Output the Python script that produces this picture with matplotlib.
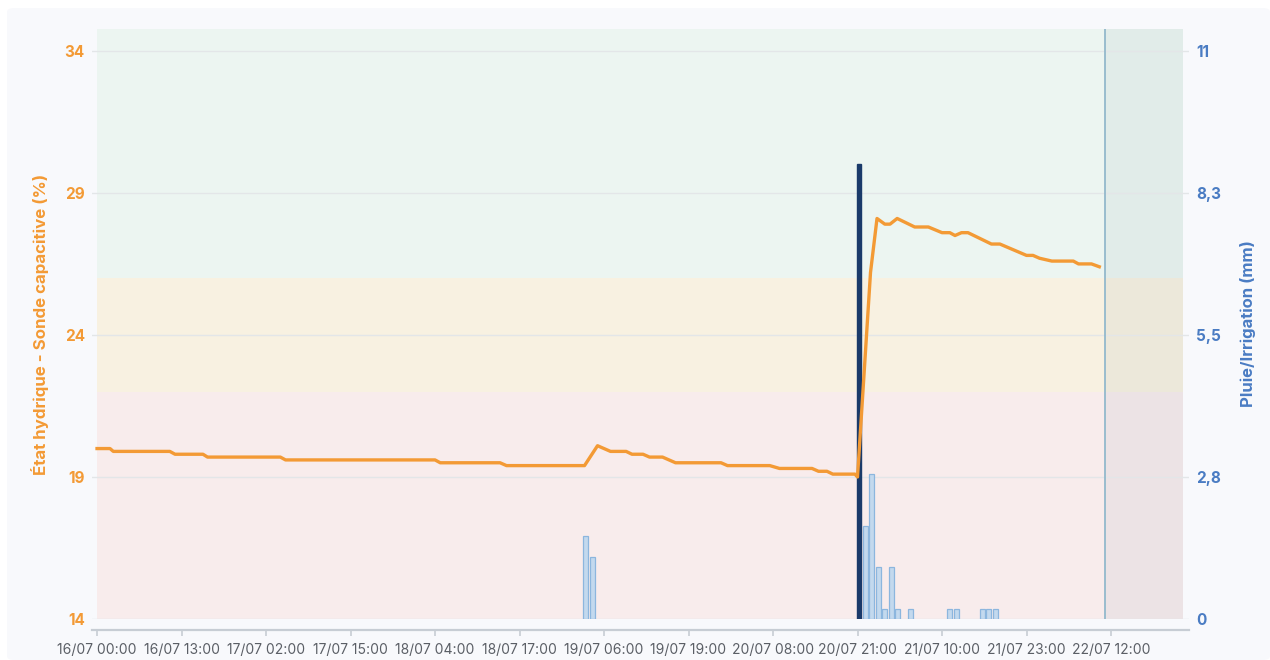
import matplotlib
matplotlib.use("Agg")
import matplotlib.pyplot as plt
from matplotlib.patches import FancyBboxPatch
from matplotlib.ticker import FixedLocator, FuncFormatter
from datetime import datetime, timedelta

plt.rcParams['font.family'] = ['Inter', 'DejaVu Sans']

# soil moisture probe (%), x = hours since 16/07 00:00
start = datetime(2024, 7, 16, 0, 0)
probe_hours = [0, 2, 2.5, 11.2, 12, 16.3, 17, 28.2, 29, 52,
               52.8, 62, 63, 75, 77, 79, 81.4, 82.3, 84, 85,
               87, 89, 96, 97, 103.5, 105, 110, 111, 112.3, 113.2,
               116.6, 117, 119, 120, 121.2, 122, 123.1, 125.8, 127.9, 130,
               131.2, 132, 133, 134, 137.6, 138.9, 143, 144, 145, 146.9,
               150.2, 151, 153, 154.2]
probe_values = [20.0, 20.0, 19.9, 19.9, 19.8, 19.8, 19.7, 19.7, 19.6, 19.6,
                19.5, 19.5, 19.4, 19.4, 20.1, 19.9, 19.9, 19.8, 19.8, 19.7,
                19.7, 19.5, 19.5, 19.4, 19.4, 19.3, 19.3, 19.2, 19.2, 19.1,
                19.1, 19.0, 26.2, 28.1, 27.9, 27.9, 28.1, 27.8, 27.8, 27.6,
                27.6, 27.5, 27.6, 27.6, 27.2, 27.2, 26.8, 26.8, 26.7, 26.6,
                26.6, 26.5, 26.5, 26.4]

# rain (mm) per hour
rain_hours = [75, 76, 118, 119, 120, 121, 122, 123, 125, 131, 132, 136, 137, 138]
rain_mm = [1.6, 1.2, 1.8, 2.8, 1.0, 0.2, 1.0, 0.2, 0.2, 0.2, 0.2, 0.2, 0.2, 0.2]

# irrigation (mm)
irrig_hours = [117]
irrig_mm = [8.8]

now_hour = 155.1
x_end = 167

# moisture zones (%)
zone_edges = [14, 22, 26, 34.77]
zone_colors = ['#f8ecec', '#f8f1e1', '#ecf5f1']

left_ticks = [14, 19, 24, 29, 34]
right_ticks = [0, 2.75, 5.5, 8.25, 11]
right_labels = ['0', '2,8', '5,5', '8,3', '11']
x_ticks = list(range(0, 157, 13))

orange = '#f39a35'
blue_txt = '#4a7cc3'

fig = plt.figure(figsize=(12.7, 6.6), dpi=100)
fig.patch.set_facecolor('white')
fig.patches.append(FancyBboxPatch((7 / 1270, 0), 1 - 7 / 1270, 1 - 8 / 660,
                                  boxstyle='round,pad=0,rounding_size=0.006',
                                  transform=fig.transFigure, facecolor='#f8f9fc',
                                  edgecolor='none', zorder=-10))

ax = fig.add_axes([91.7 / 1270, 41 / 660, (1189 - 91.7) / 1270, (619 - 29) / 660])
ax.patch.set_visible(False)
ax2 = ax.twinx()

# zones
for i in range(len(zone_colors)):
    ax.fill_between([0, x_end], zone_edges[i], zone_edges[i + 1],
                    color=zone_colors[i], linewidth=0, zorder=0)
# region after "now"
ax.fill_between([now_hour, x_end], zone_edges[0], zone_edges[-1],
                color='#5a7a8a', alpha=0.07, linewidth=0, zorder=0.5)

ax.set_ylim(14, 34.77)
ax.set_xlim(-0.82, 168)
ax.yaxis.set_major_locator(FixedLocator(left_ticks))
ax.grid(axis='y', color='#e3e6e8', linewidth=1, zorder=0.6)
ax.set_axisbelow(True)

# bars on right axis
ax2.set_ylim(0, 11 * (34.77 - 14) / 20)
ax2.bar([h + 0.2 for h in rain_hours], rain_mm, width=0.75,
        color='#c3d9ee', edgecolor='#8cb6de', linewidth=0.9, zorder=2)
ax2.bar([h + 0.2 for h in irrig_hours], irrig_mm, width=0.7,
        color='#1a3a6a', edgecolor='#1a3a6a', linewidth=1, zorder=3)

# probe line on top, in left-axis units
ax2.plot(probe_hours, probe_values, color=orange, linewidth=2.4,
         transform=ax.transData, zorder=5, solid_joinstyle='round')
ax2.axvline(now_hour, color='#93b9cc', linewidth=1.3, zorder=4)
ax2.set_ylim(0, 11 * (34.77 - 14) / 20)
ax2.set_xlim(-0.82, 168)
ax2.yaxis.set_major_locator(FixedLocator(right_ticks))
ax2.set_yticklabels(right_labels)

for a in (ax, ax2):
    for s in ('top', 'left', 'right', 'bottom'):
        a.spines[s].set_visible(False)

ax.spines['bottom'].set_visible(True)
ax.spines['bottom'].set_position(('outward', 8))
ax.spines['bottom'].set_color('#c7cdd4')
ax.spines['bottom'].set_linewidth(1.6)

ax.xaxis.set_major_locator(FixedLocator(x_ticks))
ax.xaxis.set_major_formatter(FuncFormatter(
    lambda x, pos: (start + timedelta(hours=float(x))).strftime('%d/%m %H:%M')))
ax.tick_params(axis='x', length=4, width=1.2, color='#c7cdd4', pad=5,
               labelsize=10, labelcolor='#5b5f66')
ax.tick_params(axis='y', length=0, pad=5, labelsize=11, labelcolor=orange)
ax2.tick_params(axis='y', length=0, pad=5, labelsize=11, labelcolor=blue_txt)
for t in ax.get_yticklabels():
    t.set_fontweight('bold')
for t in ax2.get_yticklabels():
    t.set_fontweight('bold')

ax.set_ylabel('État hydrique - Sonde capacitive (%)', color=orange,
              fontsize=12.2, fontweight='bold', labelpad=11)
ax2.set_ylabel('Pluie/Irrigation (mm)', color=blue_txt, fontsize=12,
               fontweight='bold', labelpad=14)

fig.savefig('out.png', dpi=100)
